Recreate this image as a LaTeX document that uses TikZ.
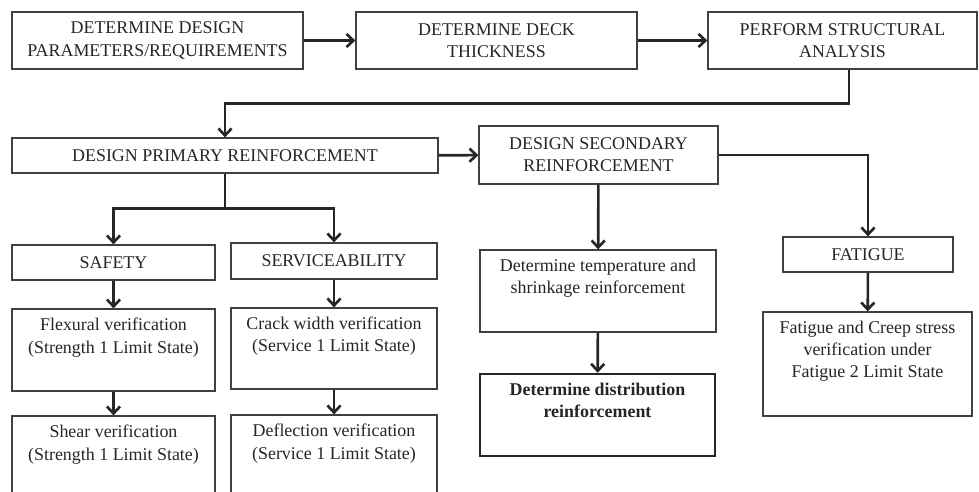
\documentclass[tikz,border=0pt]{standalone}
\usepackage{fontspec}
\setmainfont{Liberation Serif}
\usetikzlibrary{arrows.meta}
\begin{document}
\begin{tikzpicture}[x=0.02cm,y=-0.02cm,
  box/.style={draw=black!75,line width=0.7pt,fill=white,align=center,text=black!85,
    font=\fontsize{10.2}{12.6}\selectfont,inner sep=0pt},
  arr/.style={line width=1.5pt,draw=black!85,-{Straight Barb[length=4pt,width=7.5pt]}}]

\useasboundingbox (0,0) rectangle (979,491);
\clip (0,0) rectangle (979,491);
  % first row
  \node[box,minimum width=5.82cm,minimum height=1.14cm] (n11) at (157.5,40.5) {DETERMINE DESIGN\\PARAMETERS/REQUIREMENTS};
  \node[box,minimum width=5.62cm,minimum height=1.14cm] (n12) at (496.5,40.5) {DETERMINE DECK\\THICKNESS};
  \node[box,minimum width=5.38cm,minimum height=1.14cm] (n13) at (842.5,40.5) {PERFORM STRUCTURAL\\ANALYSIS};
  % reinforcement
  \node[box,minimum width=8.52cm,minimum height=0.70cm] (n21) at (225,155.5) {DESIGN PRIMARY REINFORCEMENT};
  \node[box,minimum width=4.78cm,minimum height=1.16cm] (n22) at (598.5,155) {DESIGN SECONDARY\\REINFORCEMENT};
  % third row
  \node[box,minimum width=4.06cm,minimum height=0.70cm] (n31) at (113.5,262.5) {SAFETY};
  \node[box,minimum width=4.12cm,minimum height=0.72cm] (n32) at (334,261) {SERVICEABILITY};
  \node[box,minimum width=4.72cm,minimum height=1.64cm] (n33) at (598,291) {Determine temperature and\\shrinkage reinforcement\\\strut};
  \node[box,minimum width=3.40cm,minimum height=0.70cm] (n34) at (868,254.5) {FATIGUE};
  % verifications
  \node[box,minimum width=4.06cm,minimum height=1.64cm] (n41) at (113.5,350) {Flexural verification\\(Strength 1 Limit State)\\\strut};
  \node[box,minimum width=4.12cm,minimum height=1.62cm] (n42) at (334,348.5) {Crack width verification\\(Service 1 Limit State)\\\strut};
  \node[box,minimum width=4.70cm,minimum height=1.64cm,line width=1.4pt,draw=black!85] (n43) at (597.5,415) {\bfseries Determine distribution\\\bfseries reinforcement\\\strut};
  \node[box,minimum width=4.18cm,minimum height=2.08cm] (n44) at (867.5,364) {Fatigue and Creep stress\\verification under\\Fatigue 2 Limit State\\\strut};
  \node[box,minimum width=4.06cm,minimum height=1.64cm] (n51) at (113.5,457) {Shear verification\\(Strength 1 Limit State)\\\strut};
  \node[box,minimum width=4.12cm,minimum height=1.64cm] (n52) at (334,456) {Deflection verification\\(Service 1 Limit State)\\\strut};

  \draw[arr] (n11) -- (n12);
  \draw[arr] (n12) -- (n13);
  \draw[arr] ([xshift=0.13cm]n13.south) -- ++(0,34) -| (n21.north);
  \draw[arr] (n21) -- (n22);
  \draw[arr] (n21.south) -- ++(0,35) -| (n31.north);
  \draw[arr] (n21.south) -- ++(0,35) -| (n32.north);
  \draw[arr] (n22.east) -| (n34.north);
  \draw[arr] (n22) -- (n33);
  \draw[arr] (n33) -- (n43);
  \draw[arr] (n34) -- (n44);
  \draw[arr] (n31) -- (n41);
  \draw[arr] (n41) -- (n51);
  \draw[arr] (n32) -- (n42);
  \draw[arr] (n42) -- (n52);
 \end{tikzpicture}
\end{document}
